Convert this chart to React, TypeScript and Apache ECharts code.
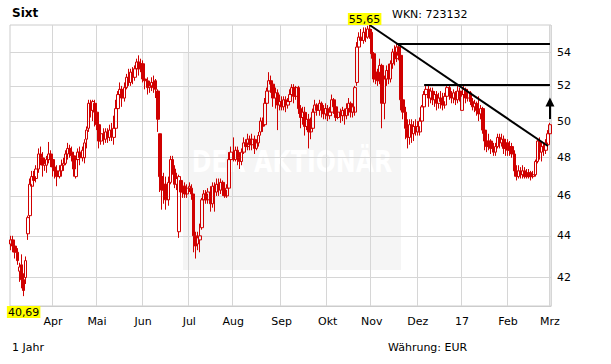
import React, { useEffect, useRef } from "react";
import * as echarts from "echarts";

// ---- data ----
const startDate = "2016-03-02";
const tradingDayCount = 258;
const holidays = ["2016-03-25", "2016-03-28", "2016-12-26"];

const opens = [
  43.6, 43.8, 43.5, 43.2, 42.3, 42.6, 41.9, 42.0, 44.1, 45.0,
  46.5, 47.0, 46.9, 47.4, 48.2, 48.0, 47.6, 47.6, 47.9, 48.2,
  47.9, 47.5, 47.3, 47.0, 47.3, 47.6, 47.7, 48.2, 48.5, 48.3,
  48.1, 47.0, 47.9, 48.3, 48.0, 48.0, 49.0, 49.6, 51.0, 50.6,
  51.0, 50.5, 49.8, 48.9, 49.3, 49.0, 49.4, 49.1, 49.5, 49.1,
  49.6, 50.7, 51.5, 51.8, 51.3, 51.9, 52.5, 52.2, 52.8, 52.5,
  53.0, 53.4, 53.0, 53.3, 52.4, 52.3, 51.9, 52.0, 52.2, 52.3,
  51.7, 49.3, 47.0, 46.3, 46.6, 45.8, 46.7, 47.9, 47.4, 46.6,
  44.2, 46.8, 46.2, 46.5, 46.1, 46.4, 46.4, 46.1, 44.0, 43.6,
  43.8, 44.4, 45.8, 46.1, 45.8, 46.2, 45.6, 46.5, 46.2, 46.6,
  46.3, 46.7, 46.3, 46.0, 46.4, 47.9, 48.3, 47.9, 48.4, 48.0,
  47.8, 48.3, 48.8, 48.6, 49.0, 48.7, 49.0, 48.5, 48.8, 49.4,
  50.0, 49.8, 51.0, 51.7, 52.3, 52.1, 51.3, 51.6, 50.9, 51.1,
  50.8, 51.2, 50.9, 51.1, 51.5, 51.9, 51.4, 51.9, 50.7, 50.2,
  50.5, 49.7, 50.1, 49.4, 49.6, 50.5, 50.9, 50.6, 51.0, 50.7,
  50.4, 50.7, 50.3, 50.5, 51.2, 50.8, 50.2, 50.5, 50.3, 50.6,
  50.3, 50.7, 51.0, 50.5, 50.5, 52.2, 54.3, 54.9, 54.7, 55.2,
  54.9, 55.4, 55.2, 53.9, 52.4, 52.8, 52.3, 53.2, 51.0, 52.4,
  52.9, 52.4, 53.3, 54.0, 53.6, 54.3, 53.8, 51.2, 50.5, 49.6,
  49.1, 49.8, 49.3, 49.7, 49.4, 49.4, 50.0, 50.8, 51.5, 51.8,
  51.3, 51.7, 51.2, 51.5, 51.0, 51.3, 51.1, 50.9, 51.4, 51.9,
  51.5, 51.3, 51.6, 51.2, 51.7, 50.6, 51.5, 51.8, 51.3, 51.6,
  51.1, 50.8, 51.0, 50.6, 50.4, 50.7, 49.5, 48.9, 48.6, 48.9,
  48.5, 48.3, 48.6, 49.1, 48.8, 49.0, 48.5, 48.8, 48.4, 48.6,
  48.2, 47.3, 47.0, 47.3, 47.1, 47.3, 47.0, 47.2,
  47.2, 47.0, 47.1, 47.8, 48.9, 48.3, 48.6, 48.4, 48.7, 49.3,
];
const closes = [
  43.8, 43.5, 43.2, 42.8, 42.5, 41.9, 41.4, 42.8, 44.9, 46.6,
  47.0, 46.8, 47.4, 48.2, 48.0, 47.6, 47.7, 47.9, 48.2, 47.9,
  47.5, 47.3, 47.0, 47.3, 47.6, 47.7, 48.2, 48.5, 48.3, 48.1,
  47.4, 47.9, 48.3, 48.0, 48.4, 48.8, 49.5, 51.0, 50.6, 51.1,
  50.5, 49.8, 48.9, 49.3, 49.0, 49.4, 49.1, 49.5, 49.2, 49.6,
  50.7, 51.5, 51.8, 51.3, 51.9, 52.5, 52.2, 52.8, 52.5, 53.0,
  53.4, 53.0, 53.3, 52.4, 52.3, 51.9, 52.0, 52.2, 51.9, 51.8,
  50.1, 47.0, 46.3, 46.6, 45.8, 46.7, 47.9, 47.4, 46.6, 46.9,
  47.0, 46.2, 46.5, 46.1, 46.4, 46.5, 46.1, 44.0, 43.5, 43.9,
  44.0, 45.8, 46.1, 45.8, 46.2, 45.6, 46.5, 46.2, 46.6, 46.3,
  46.7, 46.3, 46.0, 46.4, 47.9, 48.3, 47.9, 48.4, 48.0, 47.8,
  48.3, 48.8, 48.6, 49.0, 48.7, 49.0, 48.5, 48.8, 49.2, 50.0,
  49.7, 51.0, 51.7, 52.3, 52.1, 51.3, 51.6, 50.9, 51.1, 50.8,
  51.2, 50.9, 51.1, 51.5, 51.9, 51.4, 51.9, 50.7, 50.2, 50.5,
  49.7, 50.1, 49.4, 49.6, 50.5, 50.9, 50.6, 51.0, 50.7, 50.4,
  50.7, 50.3, 50.5, 51.2, 50.8, 50.2, 50.5, 50.3, 50.6, 50.3,
  50.7, 51.0, 50.5, 50.8, 51.9, 54.3, 54.9, 54.7, 55.2, 54.9,
  55.4, 55.2, 53.9, 52.4, 52.8, 52.3, 53.2, 51.0, 52.4, 52.9,
  52.4, 53.3, 54.0, 53.6, 54.3, 53.8, 51.2, 50.5, 49.6, 49.1,
  49.8, 49.3, 49.7, 49.4, 49.7, 50.0, 50.8, 51.5, 51.8, 51.3,
  51.7, 51.2, 51.5, 51.0, 51.3, 51.1, 50.9, 51.4, 51.9, 51.5,
  51.3, 51.6, 51.2, 51.7, 51.4, 51.5, 51.8, 51.3, 51.6, 51.1,
  50.8, 51.0, 50.6, 50.4, 50.7, 49.5, 48.9, 48.6, 48.9, 48.5,
  48.3, 48.6, 49.1, 48.8, 49.0, 48.5, 48.8, 48.4, 48.6, 48.2,
  47.3, 47.0, 47.3, 47.1, 47.3, 47.0, 47.2, 47.0,
  47.0, 47.1, 47.8, 48.9, 48.3, 48.6, 48.4, 48.8, 49.3, 49.8,
];
const lows = [
  43.3, 43.2, 42.9, 42.6, 41.8, 41.5, 41.14, 41.7, 43.8, 44.7,
  46.2, 46.5, 46.7, 47.2, 47.6, 47.0, 47.3, 47.2, 47.7, 47.5,
  47.0, 46.9, 46.5, 46.9, 47.0, 47.3, 47.6, 47.9, 48.0, 47.8,
  47.0, 46.9, 47.7, 47.6, 47.8, 47.7, 48.5, 49.4, 50.2, 50.0,
  49.7, 49.5, 48.5, 48.7, 48.7, 48.8, 48.8, 48.9, 48.9, 48.7,
  49.5, 50.4, 51.0, 50.8, 51.1, 51.8, 52.0, 52.0, 52.1, 52.3,
  52.8, 52.6, 52.8, 52.2, 51.8, 51.5, 51.6, 51.7, 51.6, 51.3,
  49.4, 46.2, 45.3, 45.6, 45.3, 45.5, 46.6, 47.1, 46.4, 46.3,
  43.9, 44.3, 45.9, 45.9, 45.9, 46.2, 45.8, 43.2, 42.9, 43.3,
  43.2, 44.3, 45.5, 45.6, 45.6, 45.2, 45.4, 45.2, 46.0, 46.0,
  46.1, 46.0, 45.9, 45.9, 46.3, 47.6, 47.8, 47.8, 47.6, 47.4,
  47.6, 48.2, 48.3, 48.4, 48.4, 48.4, 48.2, 48.4, 48.6, 49.2,
  49.4, 49.7, 50.6, 51.4, 51.6, 50.8, 50.7, 49.5, 50.6, 50.6,
  50.6, 50.5, 50.7, 50.9, 51.3, 51.0, 51.2, 50.4, 49.6, 49.8,
  49.2, 49.5, 48.5, 49.0, 49.5, 50.2, 50.3, 50.3, 50.2, 50.1,
  50.1, 50.0, 50.1, 50.3, 50.4, 50.0, 50.1, 49.9, 50.0, 49.8,
  50.1, 50.3, 50.2, 50.2, 50.3, 52.0, 54.0, 54.3, 54.5, 54.6,
  54.8, 54.8, 53.6, 52.2, 52.1, 52.0, 52.1, 49.6, 50.1, 52.0,
  52.1, 52.2, 53.0, 53.2, 53.4, 53.5, 50.6, 50.1, 49.0, 48.5,
  48.7, 48.8, 48.9, 49.2, 49.2, 49.2, 49.9, 50.5, 51.0, 50.8,
  51.0, 50.9, 50.8, 50.6, 50.7, 50.7, 50.6, 50.7, 51.2, 51.2,
  51.0, 51.0, 50.9, 51.0, 51.1, 50.6, 51.2, 51.0, 51.1, 50.9,
  50.6, 50.5, 50.3, 50.0, 50.1, 49.3, 48.4, 48.3, 48.4, 48.2,
  48.1, 48.1, 48.5, 48.5, 48.6, 48.2, 48.1, 48.1, 48.1, 48.0,
  47.0, 46.8, 46.9, 46.9, 46.9, 46.9, 46.9, 46.9,
  46.8, 46.9, 47.0, 47.7, 47.9, 47.8, 48.1, 48.2, 48.6, 49.2,
];
const highs = [
  44.0, 44.0, 43.7, 43.4, 42.7, 43.1, 42.2, 43.0, 45.0, 46.9,
  47.3, 47.3, 47.6, 48.5, 48.6, 48.3, 48.0, 48.1, 48.85, 48.4,
  48.2, 47.8, 47.6, 47.6, 47.9, 48.0, 48.4, 48.8, 48.7, 48.6,
  48.3, 48.0, 48.5, 48.6, 48.6, 49.0, 49.7, 51.2, 51.2, 51.2,
  51.2, 51.0, 50.1, 49.5, 49.6, 49.6, 49.6, 49.8, 49.9, 50.3,
  51.2, 51.7, 52.2, 52.0, 52.2, 52.7, 53.0, 53.0, 53.1, 53.2,
  53.6, 53.8, 53.6, 53.5, 52.7, 52.5, 52.3, 52.5, 52.6, 52.4,
  51.8, 49.3, 47.4, 47.2, 47.0, 47.0, 48.1, 48.1, 47.6, 47.2,
  47.1, 47.0, 46.7, 46.7, 46.6, 46.7, 46.6, 46.1, 44.2, 44.2,
  44.6, 45.9, 46.3, 46.3, 46.4, 46.5, 46.7, 46.7, 46.9, 46.9,
  46.9, 46.8, 46.6, 46.6, 48.3, 48.6, 49.1, 48.6, 48.6, 48.3,
  48.5, 49.1, 49.0, 49.3, 49.2, 49.3, 49.2, 49.0, 49.4, 50.2,
  50.2, 51.3, 51.9, 52.8, 52.6, 52.2, 51.9, 51.8, 51.5, 51.4,
  51.4, 51.4, 51.3, 51.8, 52.1, 52.1, 52.0, 52.0, 50.9, 50.8,
  50.8, 50.5, 50.4, 50.2, 50.7, 51.2, 51.0, 51.2, 51.1, 50.9,
  51.0, 50.9, 50.8, 51.5, 51.3, 51.0, 50.7, 50.7, 50.8, 50.7,
  51.0, 51.3, 51.1, 51.0, 52.0, 54.6, 55.2, 55.4, 55.5, 55.5,
  55.6, 55.65, 55.4, 54.0, 53.2, 53.0, 53.6, 53.3, 52.6, 53.2,
  53.3, 53.5, 54.2, 54.4, 54.5, 54.5, 53.9, 51.5, 50.8, 50.1,
  50.1, 50.1, 50.0, 50.1, 50.0, 50.2, 50.9, 51.7, 52.0, 52.0,
  51.9, 51.9, 51.7, 51.7, 51.6, 51.7, 51.6, 51.6, 52.1, 52.1,
  51.7, 51.8, 51.7, 52.0, 51.9, 51.7, 52.0, 51.9, 51.8, 51.7,
  51.3, 51.2, 51.1, 51.4, 50.9, 50.8, 49.9, 49.2, 49.3, 49.0,
  48.8, 48.8, 49.3, 49.3, 49.3, 49.2, 49.0, 49.0, 48.9, 48.8,
  48.4, 47.6, 47.6, 47.5, 47.6, 47.5, 47.4, 47.4,
  47.3, 47.3, 47.9, 49.0, 49.1, 48.9, 48.8, 49.0, 49.5, 49.9,
];

const yTicks = [42, 44, 46, 48, 50, 52, 54];
const axisMin = 40.69;
const axisMax = 55.65;

// drawn trend lines: [categoryIndex, price]
const trendLines = [
  { from: [171, 55.65], to: [256, 48.63] },
  { from: [184, 54.47], to: [257, 54.47] },
  { from: [197, 52.09], to: [257, 52.09] },
];
const targetArrow = { index: 257, from: 50.11, to: 51.07 };

const monthNames = ["Jan", "Feb", "Mrz", "Apr", "Mai", "Jun", "Jul", "Aug", "Sep", "Okt", "Nov", "Dez"];

// ---- helpers ----
function buildDates(): string[] {
  const out: string[] = [];
  const d = new Date(startDate + "T00:00:00Z");
  while (out.length < tradingDayCount) {
    const iso = d.toISOString().slice(0, 10);
    const wd = d.getUTCDay();
    if (wd !== 0 && wd !== 6 && holidays.indexOf(iso) < 0) out.push(iso);
    d.setUTCDate(d.getUTCDate() + 1);
  }
  return out;
}
const dates = buildDates();
const isMonthStart = (i: number) => i > 0 && dates[i].slice(5, 7) !== dates[i - 1].slice(5, 7);
const monthLabel = (v: string) => {
  const m = parseInt(v.slice(5, 7), 10) - 1;
  return m === 0 ? v.slice(2, 4) : monthNames[m];
};
const L = (v: number) => Math.log(v);
const fmt = (v: number) => v.toFixed(2).replace(".", ",");

const FONT = "DejaVu Sans";
const RED = "#d00000";

export default function App() {
  const ref = useRef<HTMLDivElement>(null);
  useEffect(() => {
    if (!ref.current) return;
    const chart = echarts.init(ref.current, undefined, { renderer: "svg" });
    const data = dates.map((_, i) => [L(opens[i]), L(closes[i]), L(lows[i]), L(highs[i])]);
    let maxI = 0;
    let minI = 0;
    highs.forEach((h, i) => { if (h > highs[maxI]) maxI = i; });
    lows.forEach((l, i) => { if (l < lows[minI]) minI = i; });

    const lineData: any[] = trendLines.map((t) => [
      { coord: [t.from[0], L(t.from[1])] },
      { coord: [t.to[0], L(t.to[1])] },
    ]);
    lineData.push([
      { coord: [targetArrow.index, L(targetArrow.from)], symbol: "none" },
      { coord: [targetArrow.index, L(targetArrow.to)], symbol: "triangle", symbolSize: 9 },
    ]);

    const option: any = {
      animation: false,
      textStyle: { fontFamily: FONT },
      grid: {
        left: 10, right: 60, top: 25, bottom: 58,
        show: true, borderColor: "#cccccc", borderWidth: 1,
      },
      xAxis: {
        type: "category",
        data: dates,
        boundaryGap: true,
        axisLine: { show: true, lineStyle: { color: "#cccccc" } },
        axisTick: { show: false },
        axisLabel: {
          interval: (i: number) => isMonthStart(i),
          formatter: (v: string) => monthLabel(v),
          color: "#000", fontSize: 11, fontFamily: FONT, margin: 10,
        },
        splitLine: {
          show: true,
          interval: (i: number) => isMonthStart(i),
          lineStyle: { color: "#d6d6d6", width: 1 },
        },
      },
      yAxis: {
        type: "value",
        position: "right",
        min: L(axisMin),
        max: L(axisMax),
        axisLine: { show: false },
        axisTick: { show: false, customValues: yTicks.map(L) },
        axisLabel: {
          customValues: yTicks.map(L),
          formatter: (v: number) => String(Math.round(Math.exp(v))),
          color: "#000", fontSize: 11, fontFamily: FONT, margin: 6,
        },
        splitLine: { show: true, lineStyle: { color: "#d6d6d6", width: 1 } },
      },
      series: [
        {
          type: "candlestick",
          data,
          barWidth: 3,
          itemStyle: {
            color: "rgba(0,0,0,0)",
            color0: RED,
            borderColor: RED,
            borderColor0: RED,
            borderWidth: 1,
          },
          markLine: {
            silent: true,
            animation: false,
            symbol: ["none", "none"],
            label: { show: false },
            lineStyle: { color: "#000", width: 2, type: "solid" },
            emphasis: { disabled: true },
            data: lineData,
          },
          markPoint: {
            silent: true,
            animation: false,
            symbol: "circle",
            symbolSize: 0,
            label: {
              show: true,
              backgroundColor: "#ffff00",
              color: "#000",
              fontSize: 11,
              fontFamily: FONT,
              lineHeight: 12,
              padding: [0, 1, 0, 1],
              distance: 0,
            },
            data: [
              { coord: [maxI, L(axisMax)], value: fmt(axisMax), label: { position: "top", offset: [-5, 0], formatter: fmt(axisMax) } },
              { coord: [minI, L(axisMin)], value: fmt(axisMin), label: { position: "bottom", formatter: fmt(axisMin) } },
            ],
          },
        },
      ],
      graphic: [
        { type: "rect", z: -10, silent: true, shape: { x: 183, y: 52, width: 218, height: 218 }, style: { fill: "#f5f5f5" } },
        {
          type: "text", z: -9, silent: true, x: 292, y: 161, scaleX: 0.79,
          style: { text: "DER AKTIONÄR", x: 0, y: 0, align: "center", verticalAlign: "middle", fill: "#ffffff", font: `bold 30px "${FONT}"` },
        },
        { type: "text", silent: true, x: 12, y: 12.5, style: { text: "Sixt", verticalAlign: "middle", fill: "#000", font: `bold 12px "${FONT}"` } },
        { type: "text", silent: true, x: 392, y: 14, style: { text: "WKN: 723132", verticalAlign: "middle", fill: "#000", font: `11px "${FONT}"` } },
        { type: "text", silent: true, x: 12, y: 347, style: { text: "1 Jahr", verticalAlign: "middle", fill: "#000", font: `11px "${FONT}"` } },
        { type: "text", silent: true, x: 388, y: 347, style: { text: "Währung: EUR", verticalAlign: "middle", fill: "#000", font: `11px "${FONT}"` } },
      ],
    };
    chart.setOption(option);
    return () => chart.dispose();
  }, []);
  return (
    <div
      ref={ref}
      style={{ position: "fixed", left: 0, top: 0, width: 611, height: 364, background: "#fff" }}
    />
  );
}
